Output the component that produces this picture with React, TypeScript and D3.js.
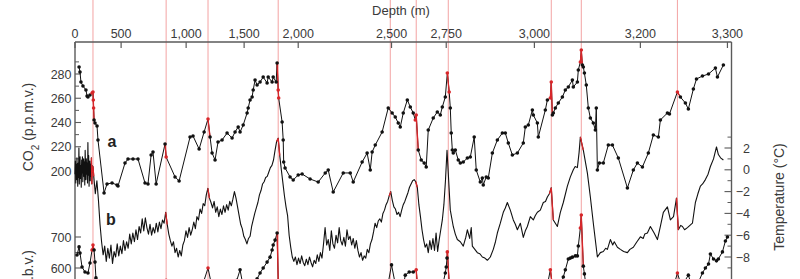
import React from "react";
import * as d3 from "d3";

const W = 800;
const H = 279;

// Top axis: depth ticks placed on the age scale (kyr)
const depthTickLabels = ["0", "500", "1,000", "1,500", "2,000", "2,500", "2,750", "3,000", "3,200", "3,300"];
const depthTickAges = [0, 29.5, 71.1, 108.2, 142.8, 202.5, 237.5, 293.9, 361.7, 417.4];

// Vertical marker lines (kyr)
const markerAges = [11.5, 58.3, 85.1, 130.0, 201.7, 218.3, 238.8, 304.7, 323.9, 385.4];

const co2Ticks = [200, 220, 240, 260, 280];
const co2MinorTicks = [210, 230, 250, 270, 290];
const ch4Ticks = [600, 700];
const ch4MinorTicks = [650];
const tempTicks = [-8, -6, -4, -2, 0, 2];
const tempMinorTicks = [-9, -7, -5, -3, -1, 1, 3];

// CO2 (p.p.m.v.) : [age kyr, value]
const co2: [number, number][] = [
  [2.6, 285.8], [3.2, 281.6], [3.8, 273.4], [5.1, 270.1], [7.0, 266.8], [7.7, 261.9], [8.3, 261.0], [9.6, 262.7],
  [10.9, 264.3], [11.5, 265.2], [11.7, 258.6], [11.9, 252.0], [12.2, 242.0], [12.8, 239.6], [14.1, 237.1], [14.7, 225.6],
  [18.6, 181.9], [20.5, 189.3], [23.7, 190.1], [26.9, 188.5], [27.5, 187.6], [32.0, 206.6], [33.9, 209.9], [37.1, 209.9],
  [40.3, 209.9], [44.8, 190.1], [46.7, 189.3], [48.7, 213.2], [49.9, 215.7], [51.9, 189.3], [57.6, 222.3], [58.3, 211.5],
  [64.0, 195.1], [66.6, 191.8], [73.6, 228.0], [75.5, 228.9], [79.4, 218.1], [82.6, 232.2], [85.1, 242.9], [86.4, 228.0],
  [87.7, 214.8], [89.6, 209.1], [91.5, 223.9], [94.1, 225.6], [97.3, 231.3], [100.5, 227.2], [102.4, 232.2], [104.4, 236.3],
  [105.6, 232.2], [107.6, 237.9], [110.1, 247.8], [110.8, 252.0], [112.0, 258.6], [113.3, 261.0], [114.0, 266.8], [115.2, 275.0],
  [116.5, 270.9], [118.4, 273.4], [120.4, 277.5], [122.9, 272.6], [123.6, 277.5], [126.1, 273.4], [126.8, 277.5], [128.7, 273.4],
  [129.3, 289.1], [130.0, 266.8], [130.3, 260.2], [132.5, 240.4], [133.2, 225.6], [133.5, 207.4], [134.4, 202.5], [137.6, 195.1],
  [139.6, 192.6], [142.8, 196.7], [145.3, 197.5], [150.4, 193.4], [155.6, 190.9], [160.1, 198.4], [162.0, 200.8], [165.2, 182.7],
  [171.6, 198.4], [176.1, 198.4], [178.0, 190.9], [183.7, 207.4], [186.9, 214.8], [188.9, 200.8], [190.1, 215.7], [192.1, 221.4],
  [196.5, 232.2], [200.4, 252.0], [202.9, 247.8], [204.9, 244.5], [206.8, 239.6], [208.1, 236.3], [210.0, 247.8], [212.6, 258.6],
  [214.5, 252.8], [216.4, 247.8], [217.7, 242.1], [218.3, 246.2], [219.6, 217.3], [221.5, 209.1], [223.4, 206.6], [224.7, 203.3],
  [226.0, 233.8], [229.2, 243.7], [231.8, 248.7], [233.7, 246.2], [235.0, 252.8], [236.9, 261.0], [238.2, 280.8], [239.4, 265.2],
  [240.1, 252.0], [240.7, 231.3], [241.4, 217.3], [242.0, 214.8], [243.3, 217.3], [245.2, 209.1], [246.5, 206.6], [248.4, 207.4],
  [251.0, 210.7], [252.9, 211.5], [255.4, 228.0], [256.7, 200.8], [259.3, 190.9], [260.6, 194.2], [261.2, 188.5], [263.1, 195.1],
  [264.4, 194.2], [267.0, 214.8], [270.2, 225.6], [273.4, 231.3], [275.3, 231.3], [277.2, 223.1], [279.8, 213.2], [283.0, 214.8],
  [286.8, 223.1], [288.1, 236.3], [290.0, 237.9], [292.6, 250.3], [293.2, 246.2], [295.8, 239.6], [296.4, 228.0], [300.9, 250.3],
  [302.2, 258.6], [304.1, 260.2], [304.7, 273.4], [305.4, 246.2], [306.0, 247.8], [307.3, 252.0], [309.2, 256.1], [311.8, 261.0],
  [313.7, 266.8], [315.6, 269.3], [318.2, 275.0], [318.8, 269.3], [321.4, 273.4], [322.0, 283.3], [323.3, 289.9], [323.9, 299.8],
  [324.6, 287.4], [325.2, 285.8], [325.9, 280.8], [327.1, 270.9], [328.4, 252.0], [329.7, 243.7], [331.6, 239.6], [332.9, 233.8],
  [333.5, 252.0], [334.2, 200.8], [335.5, 206.6], [338.0, 206.6], [341.2, 221.4], [343.8, 221.4], [347.6, 210.7], [353.4, 186.0],
  [357.2, 200.8], [359.8, 206.6], [363.0, 203.3], [366.8, 214.8], [370.0, 229.7], [373.2, 228.0], [374.5, 242.1], [379.0, 247.8],
  [380.3, 247.0], [385.4, 265.2], [387.3, 261.0], [390.5, 256.1], [392.4, 251.1], [395.6, 267.6], [397.6, 275.9], [401.4, 278.3],
  [405.3, 280.0], [409.7, 284.9], [411.0, 277.5], [414.8, 287.4],
];

// Temperature (°C): Holocene part, one value every 0.25 kyr from 0 kyr
const tempHoloceneStart = 0;
const tempHoloceneStep = 0.25;
const tempHolocene = [
  -0.4, 0.8, -1.2, 0.5, -0.9, 1.1, -0.2, -1.5, 0.6, -0.7,
  2.0, -1.3, 0.2, 1.2, -0.8, 0.4, -1.6, 0.9, -0.3, 1.2,
  -1.1, 0.3, 1.0, -0.6, 0.7, -1.4, 1.8, 0.1, -0.9, 1.0,
  -0.4, 0.6, -1.2, 2.5, -0.5, 1.3, -1.5, 0.2, 0.8, -1.0,
  0.5, -0.6, 1.1, -1.3, 0.4, -0.2, 0.3,
];
// Temperature: one value per kyr from 12 to 238 kyr
const tempGlacialStart = 12;
const tempGlacialStep = 1;
const tempGlacial = [
  -0.6, -2.2, -1.0, -2.8, -5.0, -6.6, -7.8, -7.0, -8.4, -7.2,
  -8.1, -6.9, -8.6, -7.5, -8.0, -6.8, -7.9, -7.0, -7.7, -6.5,
  -7.4, -6.6, -7.2, -5.9, -6.8, -5.8, -6.6, -5.5, -6.4, -5.2,
  -5.8, -4.5, -5.6, -4.4, -5.3, -5.9, -5.0, -6.0, -5.3, -5.8,
  -4.9, -5.7, -4.8, -5.4, -4.6, -4.9, -3.9, -5.0, -5.9, -6.5,
  -7.0, -6.6, -7.6, -7.2, -8.0, -7.4, -7.9, -6.9, -6.5, -5.6,
  -6.2, -5.3, -6.0, -5.5, -4.8, -5.4, -4.3, -4.6, -3.6, -4.0,
  -3.1, -3.3, -2.3, -1.7, -2.6, -3.0, -3.5, -2.9, -3.9, -3.4,
  -4.3, -3.6, -4.1, -3.3, -3.9, -3.2, -3.7, -2.9, -3.3, -2.7,
  -2.0, -2.6, -3.4, -4.2, -5.0, -5.4, -6.1, -6.4, -6.8, -6.3,
  -6.1, -5.2, -4.6, -4.0, -3.5, -3.0, -2.3, -1.9, -1.3, -1.1,
  -0.7, -0.6, -0.2, 0.2, 0.4, 0.9, 1.8, 2.6, 2.9, 1.3,
  0.0, -1.2, -2.4, -3.4, -4.2, -6.0, -7.1, -8.0, -8.4, -8.0,
  -8.7, -8.1, -8.6, -7.9, -8.5, -8.8, -8.2, -8.7, -8.0, -8.5,
  -8.9, -8.3, -8.6, -7.8, -8.4, -7.6, -8.1, -6.8, -5.3, -6.9,
  -6.4, -7.4, -5.6, -6.8, -7.2, -6.0, -6.7, -5.3, -6.5, -6.9,
  -6.2, -7.0, -5.5, -6.4, -6.1, -6.9, -6.3, -7.2, -6.5, -7.4,
  -8.0, -7.6, -8.3, -7.9, -8.1, -7.3, -7.6, -6.8, -6.4, -5.7,
  -4.9, -5.3, -4.7, -4.5, -4.8, -4.0, -3.7, -3.2, -2.9, -2.4,
  -2.0, -2.8, -3.4, -3.6, -4.1, -3.9, -4.3, -3.7, -3.2, -2.9,
  -2.5, -2.1, -1.6, -1.3, -1.0, -0.9, -1.1, -1.6, -3.2, -4.3,
  -5.5, -6.4, -7.1, -6.8, -7.6, -6.5, -7.3, -6.3, -7.4, -5.8,
  -7.5, -6.4, -5.5, -4.6, -3.2, -1.0, 1.8,
];
// Temperature: older part, [age kyr, value]
const tempLate: [number, number][] = [
  [240.1, -3.7], [242.0, -5.2], [243.3, -5.9], [244.6, -6.4], [246.5, -6.6], [248.4, -7.0], [250.0, -6.2], [251.0, -5.5],
  [252.5, -6.3], [253.5, -5.3], [254.2, -7.0], [255.8, -7.3], [257.4, -7.6], [259.0, -7.7], [260.6, -8.0], [262.2, -8.1],
  [263.8, -8.3], [265.7, -8.0], [267.6, -7.3], [269.0, -6.6], [270.2, -5.8], [272.1, -4.9], [274.0, -3.9], [275.3, -3.5],
  [276.6, -3.0], [278.5, -3.7], [280.4, -4.6], [281.7, -5.0], [283.0, -5.5], [284.9, -4.9], [286.8, -6.2], [288.1, -5.6],
  [289.4, -5.2], [291.3, -4.3], [293.2, -4.6], [294.5, -4.2], [295.8, -3.9], [297.7, -3.7], [299.6, -3.0], [301.0, -2.9],
  [302.2, -2.5], [303.5, -2.2], [304.7, -1.65], [306.0, -4.6], [308.6, -5.2], [310.5, -3.9], [312.4, -3.0], [315.0, -1.5],
  [316.9, -0.65], [318.8, 0.0], [320.0, 0.3], [321.4, 0.2], [322.5, 1.6], [323.3, 3.0], [325.2, 1.8], [327.8, -0.3],
  [329.7, -2.5], [331.6, -4.9], [334.2, -8.0], [336.1, -7.6], [338.0, -7.5], [339.5, -7.2], [340.6, -7.3], [342.5, -6.4],
  [344.0, -6.9], [345.0, -6.6], [347.0, -7.1], [348.9, -7.3], [351.0, -7.5], [353.4, -7.6], [355.0, -7.3], [357.2, -7.1],
  [359.5, -6.6], [361.7, -6.15], [363.5, -6.3], [364.5, -5.9], [366.2, -5.8], [368.1, -5.2], [370.5, -5.8], [372.6, -6.4],
  [374.5, -5.2], [376.4, -3.9], [379.0, -3.4], [380.9, -4.6], [382.9, -4.3], [384.8, -2.6], [386.0, -5.5], [387.5, -5.1],
  [388.6, -5.2], [390.0, -5.5], [391.8, -5.3], [395.0, -4.9], [396.9, -3.0], [398.5, -2.2], [400.1, -1.5], [401.5, -1.3],
  [403.3, -0.9], [405.0, -0.4], [406.5, 0.3], [408.5, 1.0], [410.4, 2.1], [411.6, 1.4], [413.0, 1.1], [414.8, 0.9],
];

// CH4 (p.p.b.v.) : [age kyr, value]  (values below ~565 fall below the visible frame)
const ch4: [number, number][] = [
  [1.3, 642], [2.6, 668], [3.2, 648], [4.5, 603], [6.4, 587], [8.3, 584], [9.6, 616], [10.9, 658], [11.5, 674], [12.2, 658],
  [12.8, 619], [13.4, 568], [15, 470], [18, 390], [22, 370], [28, 410], [33, 430], [40, 440], [47, 430], [52, 470],
  [58.3, 560], [62, 450], [68, 420], [75, 470], [80, 520], [85.1, 600], [88, 530], [95, 500], [100, 520], [103.5, 560],
  [105.6, 594], [108, 530], [112, 520], [116.5, 565], [118.4, 584], [120.4, 600], [122.9, 619], [124.8, 635], [126.1, 658],
  [126.8, 674], [128.0, 690], [129.3, 713], [130.0, 560], [132, 440], [138, 400], [145, 390], [155, 370], [165, 400],
  [175, 410], [185, 390], [195, 470], [200, 540], [202.5, 610], [206, 520], [210, 540], [211.3, 577], [213.8, 587],
  [216.4, 587], [218.3, 594], [220, 480], [226, 420], [232, 470], [236.9, 584], [237.5, 603], [238.0, 632], [238.2, 652],
  [240, 500], [248, 420], [258, 390], [268, 420], [280, 470], [290, 460], [300, 510], [302, 540], [304.1, 594], [306, 520],
  [310, 540], [312.4, 571], [313.7, 594], [315.6, 629], [316.9, 632], [318.2, 635], [320.1, 639], [321.4, 639], [322.0, 671],
  [323.3, 729], [323.9, 771], [325.2, 606], [325.9, 581], [328, 500], [335, 420], [345, 400], [355, 390], [365, 430],
  [375, 460], [383, 540], [385.4, 584], [388, 540], [392.4, 577], [396, 520], [401.4, 584], [403.3, 600], [405.3, 613],
  [406.5, 645], [408.5, 629], [410.4, 623], [411.6, 629], [414.2, 652], [416.1, 687], [417.4, 700],
];

const FONT = "'Liberation Sans', Arial, Helvetica, sans-serif";
const TXT = "#3a3a3a";
const AXIS = "#5a5a5a";
const RED = "#d8262a";
const MARK = "#f3a3a3";

export default function App() {
  const x = d3.scaleLinear().domain([0, 420]).range([75, 731.5]);
  const yCO2 = d3.scaleLinear().domain([200, 280]).range([171, 74]);
  const yT = d3.scaleLinear().domain([-8, 2]).range([257, 148]);
  const yCH4 = d3.scaleLinear().domain([600, 700]).range([268, 237]);

  const temperature: [number, number][] = [
    ...tempHolocene.map((v, i) => [tempHoloceneStart + i * tempHoloceneStep, v] as [number, number]),
    ...tempGlacial.map((v, i) => [tempGlacialStart + i * tempGlacialStep, v] as [number, number]),
    ...tempLate,
  ];

  const markerX = markerAges.map((a) => x(a));
  const nearPx = (px: number, tol: number) => markerX.some((m) => Math.abs(px - m) <= tol);

  const redSegments = (data: [number, number][], ys: d3.ScaleLinear<number, number>) => {
    const segs: string[] = [];
    for (let i = 0; i < data.length - 1; i++) {
      const x0 = x(data[i][0]);
      const x1 = x(data[i + 1][0]);
      const both = nearPx(x0, 1.6) && nearPx(x1, 1.6);
      const crosses = markerX.some((m) => m >= x0 && m <= x1) && x1 - x0 < 3;
      if (both || crosses) {
        segs.push(`M${x0},${ys(data[i][1])}L${x1},${ys(data[i + 1][1])}`);
      }
    }
    return segs.join("");
  };

  const lineCO2 = d3.line<[number, number]>().x((d) => x(d[0])).y((d) => yCO2(d[1]));
  const lineT = d3.line<[number, number]>().x((d) => x(d[0])).y((d) => yT(d[1]));
  const lineCH4 = d3.line<[number, number]>().x((d) => x(d[0])).y((d) => yCH4(d[1]));

  const top = 42;

  return (
    <svg
      width={W}
      height={H}
      viewBox={`0 0 ${W} ${H}`}
      style={{ position: "absolute", left: 0, top: 0, background: "#fff", display: "block" }}
      fontFamily={FONT}
    >
      <rect x={0} y={0} width={W} height={H} fill="#fff" />

      {/* marker lines */}
      {markerAges.map((a, i) => (
        <line key={"m" + i} x1={x(a)} x2={x(a)} y1={0} y2={H} stroke={MARK} strokeWidth={1} />
      ))}

      {/* Top depth axis */}
      <line x1={x(0)} x2={x(420)} y1={top} y2={top} stroke={AXIS} strokeWidth={1.4} />
      {depthTickAges.map((a, i) => (
        <g key={"dt" + i}>
          <line x1={x(a)} x2={x(a)} y1={top} y2={top + 6} stroke={AXIS} strokeWidth={1.2} />
          <text x={x(a)} y={38} textAnchor="middle" fontSize={12.5} fill={TXT}>
            {depthTickLabels[i]}
          </text>
        </g>
      ))}
      <text x={401} y={15} textAnchor="middle" fontSize={13} fill={TXT}>
        Depth (m)
      </text>

      {/* Left axis */}
      <line x1={x(0)} x2={x(0)} y1={top} y2={H} stroke={AXIS} strokeWidth={1.4} />
      {co2Ticks.map((v) => (
        <g key={"c" + v}>
          <line x1={x(0)} x2={x(0) + 6} y1={yCO2(v)} y2={yCO2(v)} stroke={AXIS} strokeWidth={1.1} />
          <text x={71.5} y={yCO2(v)} dy="0.36em" textAnchor="end" fontSize={12.5} fill={TXT}>
            {v}
          </text>
        </g>
      ))}
      {co2MinorTicks.map((v) => (
        <line key={"cm" + v} x1={x(0)} x2={x(0) + 4} y1={yCO2(v)} y2={yCO2(v)} stroke={AXIS} strokeWidth={1} />
      ))}
      {ch4Ticks.map((v) => (
        <g key={"h" + v}>
          <line x1={x(0)} x2={x(0) + 6} y1={yCH4(v)} y2={yCH4(v)} stroke={AXIS} strokeWidth={1.1} />
          <text x={71.5} y={yCH4(v)} dy="0.36em" textAnchor="end" fontSize={12.5} fill={TXT}>
            {v}
          </text>
        </g>
      ))}
      {ch4MinorTicks.map((v) => (
        <line key={"hm" + v} x1={x(0)} x2={x(0) + 4} y1={yCH4(v)} y2={yCH4(v)} stroke={AXIS} strokeWidth={1} />
      ))}
      <text transform="translate(33,127) rotate(-90)" textAnchor="middle" fontSize={14} fill={TXT}>
        CO
        <tspan fontSize={10} baselineShift="sub">2</tspan>
        <tspan> (p.p.m.v.)</tspan>
      </text>
      <text transform="translate(33,250) rotate(-90)" textAnchor="end" fontSize={14} fill={TXT}>
        CH
        <tspan fontSize={10} baselineShift="sub">4</tspan>
        <tspan> (p.p.b.v.)</tspan>
      </text>

      {/* Right temperature axis */}
      <line x1={x(420)} x2={x(420)} y1={top} y2={H} stroke={AXIS} strokeWidth={1.4} />
      {tempTicks.map((v) => (
        <g key={"t" + v}>
          <line x1={x(420) - 7} x2={x(420)} y1={yT(v)} y2={yT(v)} stroke={AXIS} strokeWidth={1.1} />
          <text x={750} y={yT(v)} dy="0.36em" textAnchor="end" fontSize={12.5} fill={TXT}>
            {v < 0 ? "\u2212" + Math.abs(v) : String(v)}
          </text>
        </g>
      ))}
      {tempMinorTicks.map((v) => (
        <line key={"tm" + v} x1={x(420) - 4} x2={x(420)} y1={yT(v)} y2={yT(v)} stroke={AXIS} strokeWidth={1} />
      ))}
      <text transform="translate(784,197) rotate(-90)" textAnchor="middle" fontSize={14} fill={TXT}>
        Temperature (°C)
      </text>

      {/* Series */}
      <path d={lineT(temperature) || ""} fill="none" stroke="#111" strokeWidth={1.1} strokeLinejoin="round" />
      <path d={redSegments(temperature, yT)} fill="none" stroke={RED} strokeWidth={1.3} />

      <path d={lineCO2(co2) || ""} fill="none" stroke="#111" strokeWidth={1} />
      <path d={redSegments(co2, yCO2)} fill="none" stroke={RED} strokeWidth={1.3} />
      {co2.map((d, i) => (
        <circle key={"cd" + i} cx={x(d[0])} cy={yCO2(d[1])} r={1.8} fill={nearPx(x(d[0]), 1) ? RED : "#111"} />
      ))}

      <path d={lineCH4(ch4) || ""} fill="none" stroke="#111" strokeWidth={1} />
      <path d={redSegments(ch4, yCH4)} fill="none" stroke={RED} strokeWidth={1.3} />
      {ch4.map((d, i) => (
        <circle key={"hd" + i} cx={x(d[0])} cy={yCH4(d[1])} r={1.8} fill={nearPx(x(d[0]), 1) ? RED : "#111"} />
      ))}

      {/* Panel labels */}
      <text x={112} y={147} textAnchor="middle" fontSize={16} fontWeight="bold" fill="#222">
        a
      </text>
      <text x={111} y={225} textAnchor="middle" fontSize={16} fontWeight="bold" fill="#222">
        b
      </text>
    </svg>
  );
}
